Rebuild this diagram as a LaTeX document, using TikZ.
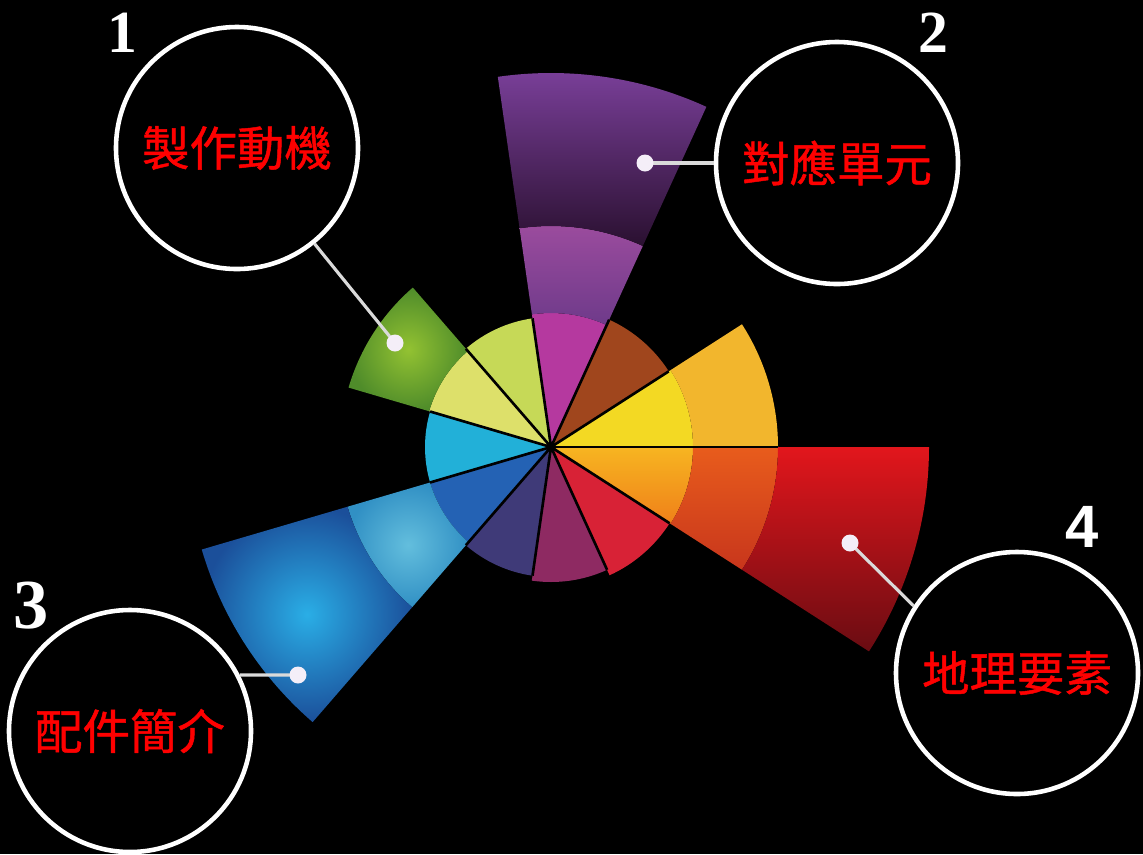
\documentclass[tikz,border=0pt]{standalone}
\usepackage{fontspec}
\setmainfont{Liberation Serif}
\newfontfamily\cjk[FakeBold=1]{Noto Sans CJK TC}
\newfontfamily\numsans{Liberation Sans}

% fan colours
\definecolor{fanyellow}{HTML}{F3D923}
\definecolor{fanamber}{HTML}{F2B62D}
\definecolor{fanbrown}{HTML}{A0461D}
\definecolor{fanmagenta}{HTML}{B5399F}
\definecolor{fanlime}{HTML}{C6D957}
\definecolor{fanpale}{HTML}{DDE06A}
\definecolor{fancyan}{HTML}{22B0D8}
\definecolor{fanblue}{HTML}{2462B4}
\definecolor{fanindigo}{HTML}{3F3A78}
\definecolor{fanmaroon}{HTML}{8E2A62}
\definecolor{fanred}{HTML}{D82236}
\definecolor{pinwhite}{HTML}{F4EEF8}
\definecolor{pinline}{HTML}{DADADA}

\tikzset{
  topic circle/.style={circle, draw=white, line width=1.3pt, minimum size=2.42cm,
    inner sep=0pt, text=red, font=\cjk\fontsize{13.5}{16}\selectfont},
  pin line/.style={draw=pinline, line width=0.9pt},
  step number/.style={text=white, inner sep=0pt, font=\bfseries\fontsize{17}{20}\selectfont},
}

\begin{document}
\begin{tikzpicture}
\useasboundingbox (0,0) rectangle (11.43,-8.54);
\fill[black] (0,0) rectangle (11.43,-8.54);

% the fan, drawn round its tip
\begin{scope}[shift={(5.51,-4.47)}]
% inner wedges
\foreach \a/\r/\c in {0/1.42/fanyellow, 32.73/1.40/fanbrown, 65.45/1.34/fanmagenta,
    98.18/1.30/fanlime, 130.91/1.27/fanpale, 163.64/1.26/fancyan, 196.36/1.26/fanblue,
    229.09/1.30/fanindigo, 261.82/1.35/fanmaroon, 294.55/1.41/fanred}
  \fill[\c] (0,0) -- (\a:\r) arc[start angle=\a, delta angle=32.73, radius=\r] -- cycle;
\shade[top color={rgb,255:red,247;green,181;blue,33}, bottom color={rgb,255:red,239;green,128;blue,25}]
  (0,0) -- (327.27:1.42) arc[start angle=327.27, end angle=360, radius=1.42] -- cycle;

% outer rings
\fill[fanamber] (0:1.42) arc[start angle=0, end angle=32.73, radius=1.42]
  -- (32.73:2.27) arc[start angle=32.73, end angle=0, radius=2.27] -- cycle;
\shade[top color={rgb,255:red,232;green,92;blue,28}, bottom color={rgb,255:red,200;green,54;blue,28}]
  (-32.73:1.42) arc[start angle=-32.73, end angle=0, radius=1.42]
  -- (0:2.27) arc[start angle=0, end angle=-32.73, radius=2.27] -- cycle;
\shade[top color={rgb,255:red,226;green,22;blue,28}, bottom color={rgb,255:red,106;green,12;blue,18}]
  (-32.73:2.27) arc[start angle=-32.73, end angle=0, radius=2.27]
  -- (0:3.78) arc[start angle=0, end angle=-32.73, radius=3.78] -- cycle;
\shade[top color={rgb,255:red,156;green,76;blue,158}, bottom color={rgb,255:red,110;green,58;blue,138}]
  (65.45:1.34) arc[start angle=65.45, end angle=98.18, radius=1.34]
  -- (98.18:2.21) arc[start angle=98.18, end angle=65.45, radius=2.21] -- cycle;
\shade[top color={rgb,255:red,123;green,64;blue,155}, bottom color={rgb,255:red,42;green,16;blue,48}]
  (65.45:2.21) arc[start angle=65.45, end angle=98.18, radius=2.21]
  -- (98.18:3.74) arc[start angle=98.18, end angle=65.45, radius=3.74] -- cycle;
\shade[inner color={rgb,255:red,147;green,194;blue,50}, outer color={rgb,255:red,79;green,140;blue,42}]
  (130.91:1.27) arc[start angle=130.91, end angle=163.64, radius=1.27]
  -- (163.64:2.11) arc[start angle=163.64, end angle=130.91, radius=2.11] -- cycle;
\shade[inner color={rgb,255:red,99;green,190;blue,221}, outer color={rgb,255:red,49;green,144;blue,196}]
  (196.36:1.26) arc[start angle=196.36, end angle=229.09, radius=1.26]
  -- (229.09:2.12) arc[start angle=229.09, end angle=196.36, radius=2.12] -- cycle;
\shade[inner color={rgb,255:red,42;green,174;blue,230}, outer color={rgb,255:red,27;green,79;blue,154}]
  (196.36:2.12) arc[start angle=196.36, end angle=229.09, radius=2.12]
  -- (229.09:3.64) arc[start angle=229.09, end angle=196.36, radius=3.64] -- cycle;

% black spokes and hub
\foreach \a/\r in {0/2.27, 32.73/1.40, 65.45/1.40, 98.18/1.30, 130.91/1.30, 163.64/1.26,
    196.36/1.26, 229.09/1.30, 261.82/1.30, 294.55/1.35, 327.27/1.41}
  \draw[black, line width=0.75pt] (0,0) -- (\a:\r);
\fill[black] (0,0) circle (0.05);
\end{scope}

% topics
\node[topic circle] (c1) at (2.37,-1.48) {製作動機};
\node[topic circle] (c2) at (8.37,-1.63) {對應單元};
\node[topic circle] (c3) at (1.30,-7.31) {配件簡介};
\node[topic circle] (c4) at (10.17,-6.73) {地理要素};

\node[step number] (n1) at (1.22,-0.33) {1};
\node[step number] (n2) at (9.33,-0.33) {2};
\node[step number, font=\bfseries\fontsize{20}{24}\selectfont] (n3) at (0.31,-6.06) {3};
\node[step number, font=\numsans\bfseries\fontsize{17}{20}\selectfont] (n4) at (10.82,-5.27) {4};

% pins into the fan
\coordinate (d1) at (3.95,-3.43);
\coordinate (d2) at (6.45,-1.63);
\coordinate (d3) at (2.98,-6.75);
\coordinate (d4) at (8.50,-5.43);
\draw[pin line] (c1.-51) -- (d1);
\draw[pin line] (c2.180) -- (d2);
\draw[pin line] (c3.27) -- (d3);
\draw[pin line] (c4.147) -- (d4);
\foreach \d in {d1,d2,d3,d4}
  \fill[pinwhite] (\d) circle (0.085);
\end{tikzpicture}
\end{document}
